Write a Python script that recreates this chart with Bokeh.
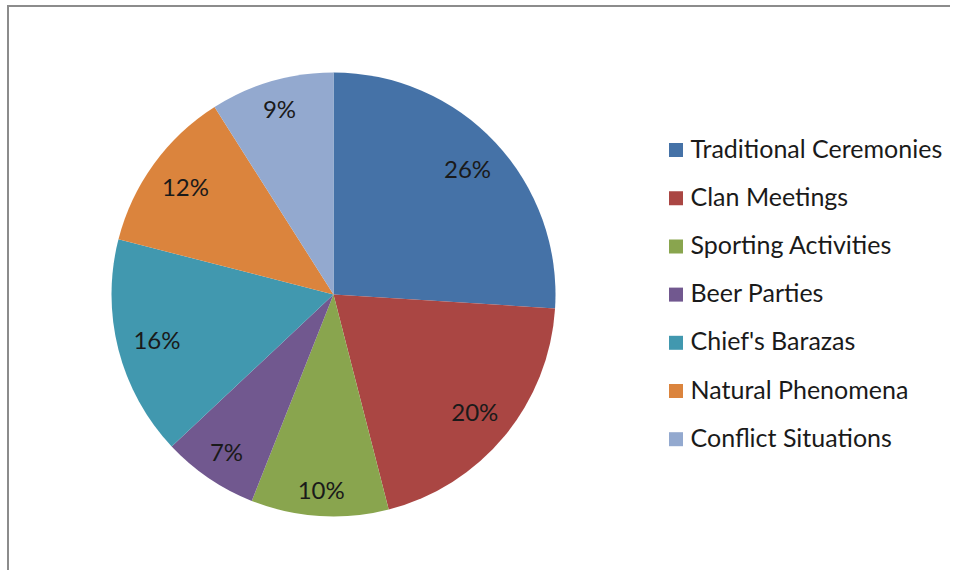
import math
from bokeh.plotting import figure
from bokeh.models import Range1d, ColumnDataSource
from bokeh.core.properties import value
from bokeh.embed import file_html
from bokeh.resources import INLINE

# ---- data ----
categories = ["Traditional Ceremonies", "Clan Meetings", "Sporting Activities",
              "Beer Parties", "Chief's Barazas", "Natural Phenomena", "Conflict Situations"]
percentages = [26, 20, 10, 7, 16, 12, 9]
colors = ["#4572A7", "#AA4643", "#89A54E", "#71588F", "#4198AF", "#DB843D", "#93A9CF"]

# ---- layout (pixel coordinates; y is negated pixel y) ----
W, H = 950, 570
CX, CY, R = 333, -294, 222
FS = 24            # label font size px
LFS = 25           # legend font size px
D = 207            # distance of label box far corner from centre
LEG_X, LEG_Y0, LEG_DY = 675.5, 149.5, 48.2
TXT_DY = 2.5       # legend text raise relative to squares

total = float(sum(percentages))
starts, ends, lxs, lys, labels = [], [], [], [], []
cum = 0.0
for v in percentages:
    a0 = math.pi / 2 - 2 * math.pi * cum / total
    cum += v
    a1 = math.pi / 2 - 2 * math.pi * cum / total
    starts.append(a0)
    ends.append(a1)
    mid = (a0 + a1) / 2
    ux, uy = math.cos(mid), math.sin(mid)
    lab = f"{round(100 * v / total)}%"
    labels.append(lab)
    w = FS * (0.56 * (len(lab) - 1) + 0.82)
    h = FS * 0.72
    sx = math.copysign(w / 2, ux)
    sy = math.copysign(h / 2, uy)
    us = ux * sx + uy * sy
    ss = sx * sx + sy * sy
    r = -us + math.sqrt(us * us - ss + D * D)
    lxs.append(CX + r * ux)
    lys.append(CY + r * uy)

gy = [-(LEG_Y0 + LEG_DY * i) for i in range(len(categories))]
src = ColumnDataSource(dict(cat=categories, pct=percentages, color=colors,
                            start=starts, end=ends, lx=lxs, ly=lys, label=labels,
                            gx=[LEG_X] * len(categories), gy=gy,
                            ty=[g + TXT_DY for g in gy],
                            tx=[LEG_X + 14.5] * len(categories)))

p = figure(width=W, height=H, output_backend="svg", toolbar_location=None,
           x_range=Range1d(0, W), y_range=Range1d(-H, 0),
           x_axis_location=None, y_axis_location=None, min_border=0)
p.xgrid.visible = False
p.ygrid.visible = False
p.outline_line_color = None
p.background_fill_color = "white"
p.border_fill_color = "white"

# chart frame (left and top edges visible)
p.segment(x0=[7.5, 6.5], y0=[-5.5, -5.5], x1=[7.5, W], y1=[-H, -5.5],
          line_color="#8c8c8c", line_width=2)

p.wedge(x=CX, y=CY, radius=R, start_angle="start", end_angle="end",
        direction="clock", fill_color="color", line_color=None, source=src)

p.text(x="lx", y="ly", text="label", source=src, text_align="center",
       text_baseline="middle", text_font=value("Lato"), text_font_size=f"{FS}px",
       text_color="#1a1a1a")

# legend
p.rect(x="gx", y="gy", width=14, height=14, fill_color="color", line_color=None, source=src)
p.text(x="tx", y="ty", text="cat", source=src, text_align="left",
       text_baseline="middle", text_font=value("Lato"), text_font_size=f"{LFS}px",
       text_color="#1a1a1a")

open("out.html", "w").write(file_html(p, INLINE))
